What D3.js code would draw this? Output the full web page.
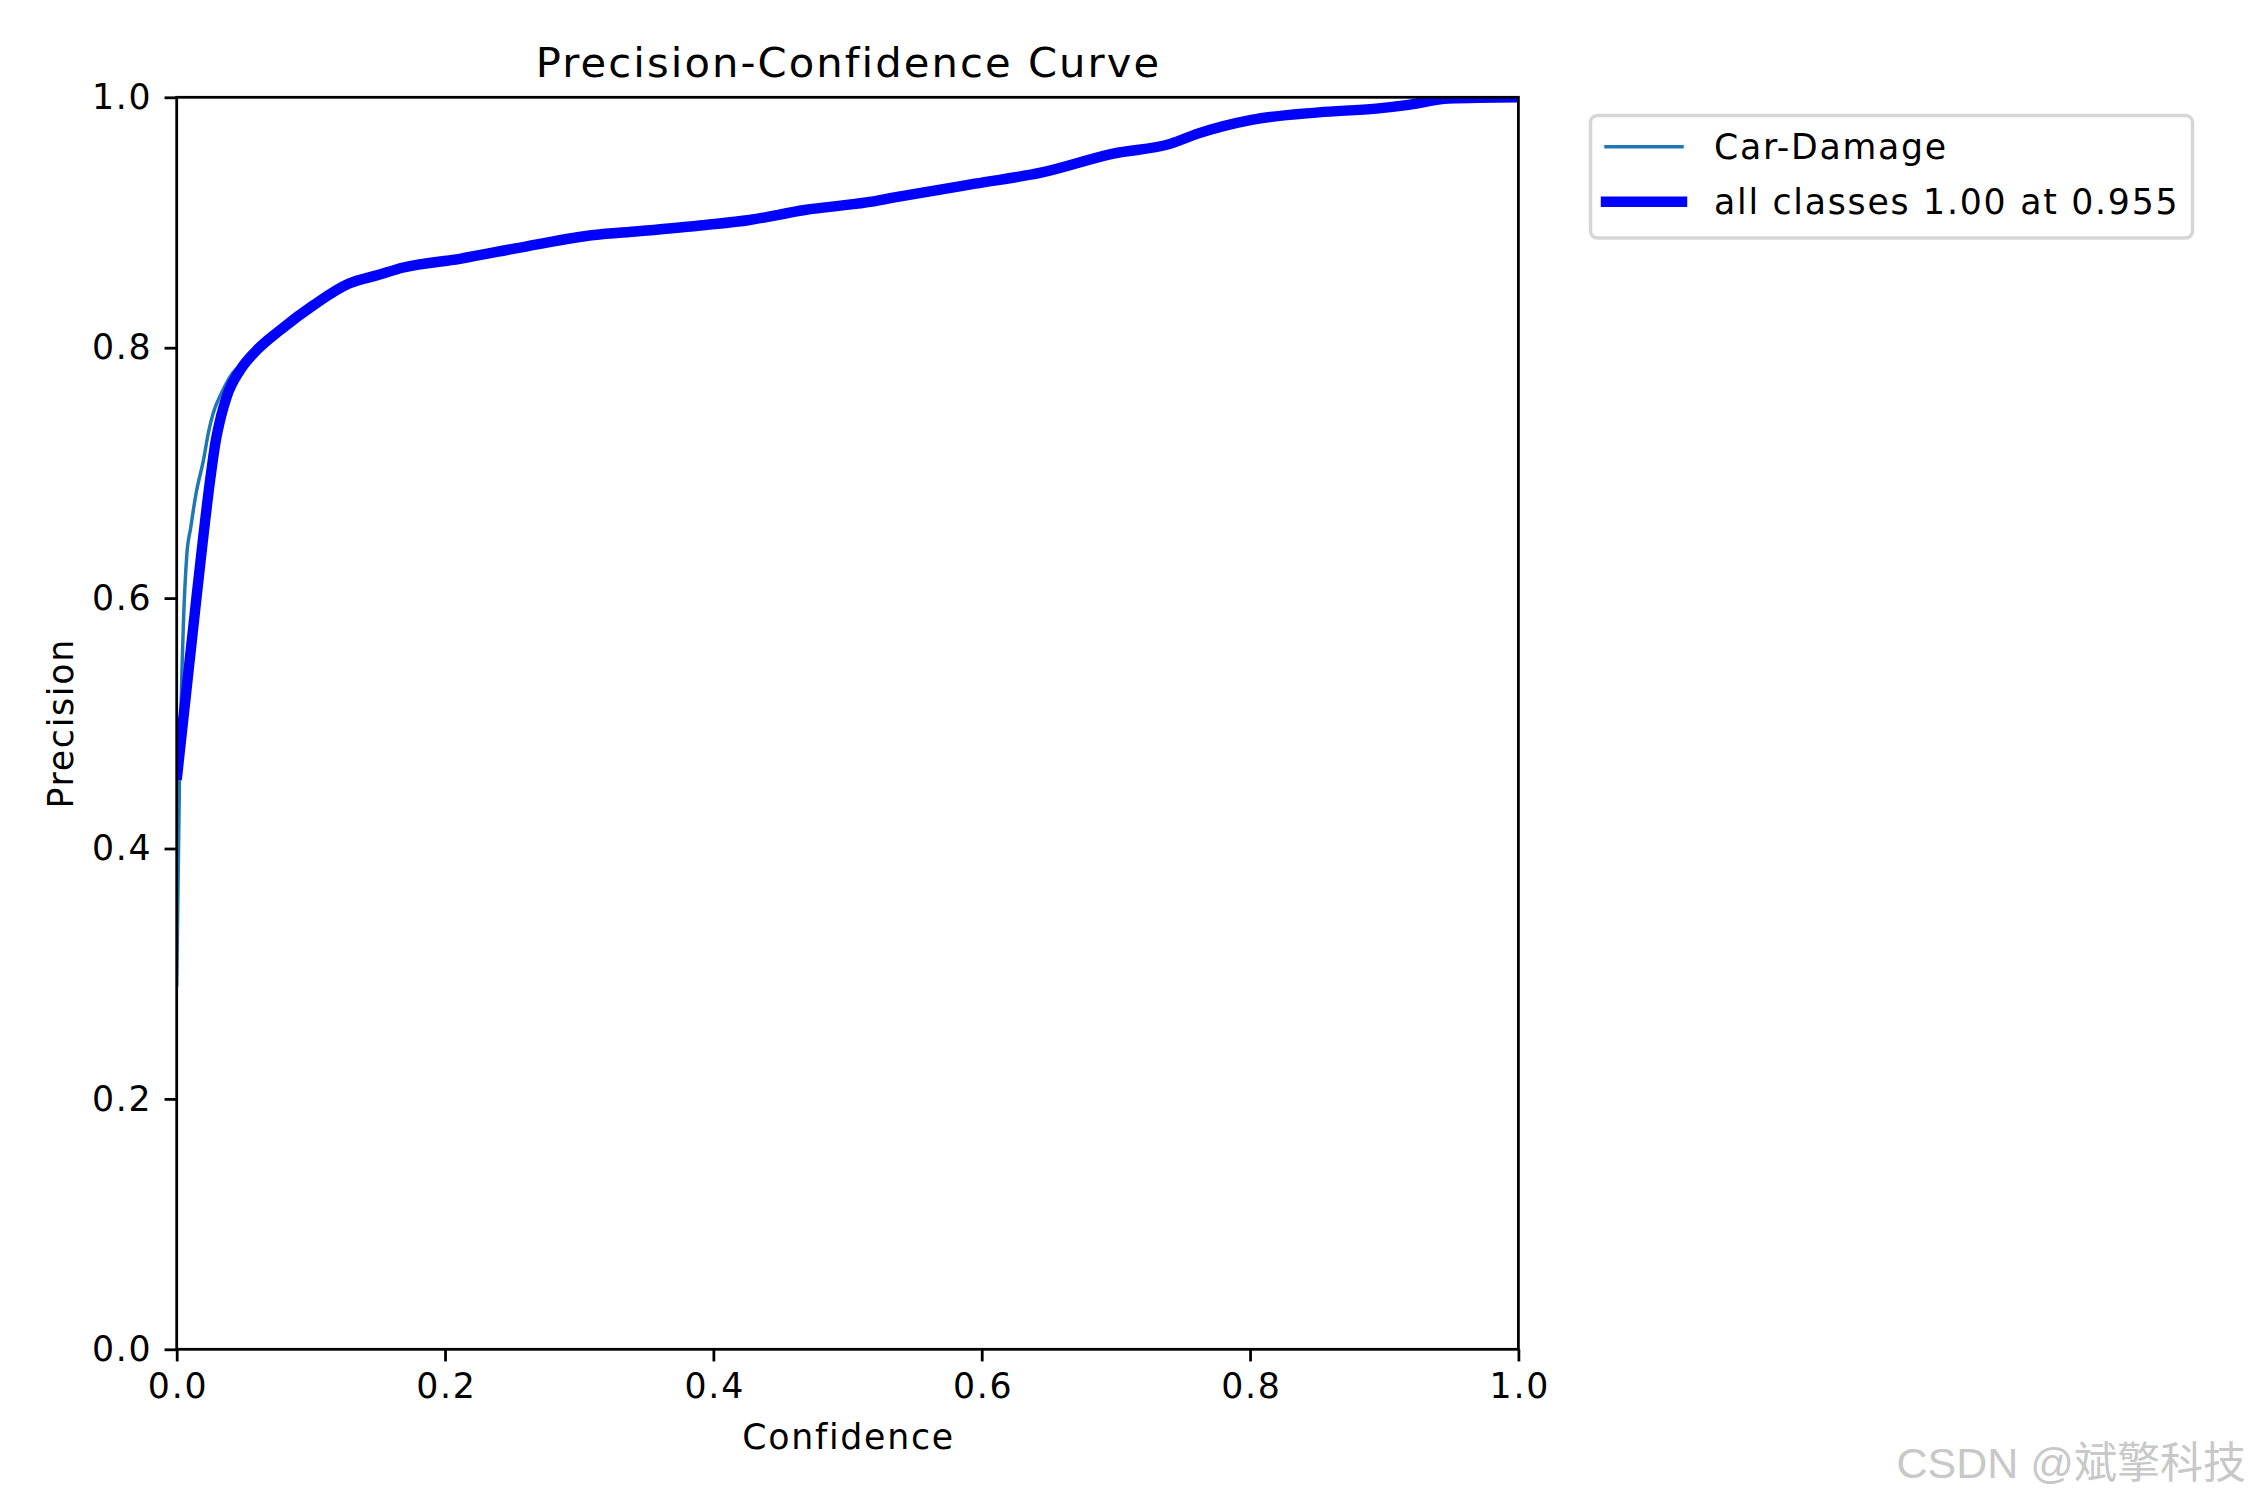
<!DOCTYPE html>
<meta charset="utf-8" />
<script src="https://d3js.org/d3.v7.min.js"></script>
<style>
  body { margin: 0; background: #fff; }
  text { font-family: "DejaVu Sans", sans-serif; fill: #000; letter-spacing: 0.05em; }
</style>
<div id="chart"></div>
<script>
  // confidence / precision
  const allConf = [0, 0.015, 0.025, 0.029, 0.033, 0.0373, 0.0472, 0.0596, 0.077, 0.102, 0.128, 0.15,
    0.169, 0.211, 0.261, 0.311, 0.344, 0.394, 0.427, 0.468, 0.514, 0.535, 0.595, 0.645, 0.698, 0.741,
    0.761, 0.801, 0.851, 0.894, 0.918, 0.948, 1.0];
  const allPrec = [0.455, 0.603, 0.695, 0.725, 0.745, 0.761, 0.782, 0.798, 0.814, 0.834, 0.851, 0.858,
    0.864, 0.871, 0.881, 0.890, 0.893, 0.898, 0.902, 0.910, 0.916, 0.920, 0.931, 0.940, 0.955, 0.963,
    0.971, 0.982, 0.988, 0.991, 0.994, 0.999, 1.0];

  // the single class curve, only visible near zero
  const classConf = [0, 0.002, 0.0037, 0.005, 0.0075, 0.0104, 0.0145, 0.0199, 0.0236, 0.0273, 0.0335, 0.0435,
    0.0472, 0.0596, 0.077, 0.102, 0.128, 0.15, 0.169, 0.211, 0.261, 0.311, 0.344, 0.394, 0.427,
    0.468, 0.514, 0.535, 0.595, 0.645, 0.698, 0.741, 0.761, 0.801, 0.851, 0.894, 0.918, 0.948, 1.0];
  const classPrec = [0.29, 0.45, 0.534, 0.58, 0.634, 0.656, 0.684, 0.710, 0.732, 0.748, 0.764, 0.782,
    0.785, 0.798, 0.814, 0.834, 0.851, 0.858, 0.864, 0.871, 0.881, 0.890, 0.893, 0.898, 0.902,
    0.910, 0.916, 0.920, 0.931, 0.940, 0.955, 0.963, 0.971, 0.982, 0.988, 0.991, 0.994, 0.999, 1.0];

  const legendLabels = ["Car-Damage", "all classes 1.00 at 0.955"];
  const ticks = [0, 0.2, 0.4, 0.6, 0.8, 1.0];

  // matplotlib at 250 dpi: 1pt = 250/72 px
  const PT = 250 / 72;
  const FS = 10 * PT;

  const W = 2250, H = 1500;
  const margin = { left: 176.7, right: W - 1518.4, top: 97.3, bottom: H - 1349.3 };
  const width = W - margin.left - margin.right;
  const height = H - margin.top - margin.bottom;

  const svg = d3.select("#chart").append("svg")
    .attr("width", W).attr("height", H);

  const g = svg.append("g")
    .attr("transform", "translate(" + margin.left + "," + margin.top + ")");

  const x = d3.scaleLinear().domain([0, 1]).range([0, width]);
  const y = d3.scaleLinear().domain([0, 1]).range([height, 0]);

  g.append("clipPath").attr("id", "clip")
    .append("rect").attr("width", width).attr("height", height);

  const line = d3.line()
    .x(d => x(d[0]))
    .y(d => y(d[1]))
    .curve(d3.curveMonotoneX);

  const lines = g.append("g").attr("clip-path", "url(#clip)");

  lines.append("path")
    .datum(d3.zip(classConf, classPrec))
    .attr("fill", "none")
    .attr("stroke", "#1f77b4")
    .attr("stroke-width", 1 * PT)
    .attr("d", line);

  lines.append("path")
    .datum(d3.zip(allConf, allPrec))
    .attr("fill", "none")
    .attr("stroke", "blue")
    .attr("stroke-width", 3 * PT)
    .attr("stroke-linejoin", "round")
    .attr("d", line);

  // axes
  const xAxis = g.append("g")
    .attr("transform", "translate(0," + height + ")")
    .call(d3.axisBottom(x).tickValues(ticks).tickFormat(d3.format(".1f"))
      .tickSize(3.5 * PT).tickPadding(3.5 * PT));
  const yAxis = g.append("g")
    .call(d3.axisLeft(y).tickValues(ticks).tickFormat(d3.format(".1f"))
      .tickSize(3.5 * PT).tickPadding(3.5 * PT));

  [xAxis, yAxis].forEach(a => {
    a.select(".domain").remove();
    a.selectAll(".tick line").attr("stroke", "#000").attr("stroke-width", 0.8 * PT);
    a.selectAll(".tick text").style("font-size", FS + "px").style("font-family", "DejaVu Sans");
  });
  xAxis.selectAll(".tick text").attr("dx", "0.025em");

  // frame
  g.append("rect")
    .attr("width", width).attr("height", height)
    .attr("fill", "none").attr("stroke", "#000").attr("stroke-width", 0.8 * PT);

  // title and labels
  svg.append("text")
    .attr("x", margin.left + width / 2 + 1).attr("y", 76.5)
    .attr("text-anchor", "middle")
    .style("font-size", 12 * PT + "px")
    .text("Precision-Confidence Curve");

  svg.append("text")
    .attr("x", margin.left + width / 2 + 1).attr("y", 1449)
    .attr("text-anchor", "middle")
    .style("font-size", FS + "px")
    .text("Confidence");

  svg.append("text")
    .attr("transform", "translate(73," + (margin.top + height / 2) + ") rotate(-90)")
    .attr("text-anchor", "middle")
    .style("font-size", FS + "px")
    .text("Precision");

  // legend
  const leg = svg.append("g").attr("transform", "translate(1590.5,115.5)");
  leg.append("rect")
    .attr("width", 602).attr("height", 122.5)
    .attr("rx", 0.2 * FS).attr("ry", 0.2 * FS)
    .attr("fill", "#fff").attr("fill-opacity", 0.8)
    .attr("stroke", "#d6d6d6").attr("stroke-width", 1 * PT);

  const legStyles = [
    { color: "#1f77b4", w: 1 * PT },
    { color: "blue", w: 3 * PT }
  ];
  legendLabels.forEach((lab, i) => {
    const cy = 31.2 + i * 55;
    leg.append("line")
      .attr("x1", 15.5).attr("x2", 91.5)
      .attr("y1", cy).attr("y2", cy)
      .attr("stroke", legStyles[i].color)
      .attr("stroke-width", legStyles[i].w)
      .attr("stroke-linecap", "square");
    leg.append("text")
      .attr("x", 123.5).attr("y", cy + 11.8)
      .style("font-size", FS + "px")
      .text(lab);
  });

  // watermark
  svg.append("text")
    .attr("x", 2246).attr("y", 1478)
    .attr("text-anchor", "end")
    .style("font-family", "'Liberation Sans', 'Noto Sans CJK SC', sans-serif")
    .style("letter-spacing", "0")
    .style("font-size", "43px")
    .style("fill", "#c8c8c8")
    .text("CSDN @斌擎科技");
</script>
